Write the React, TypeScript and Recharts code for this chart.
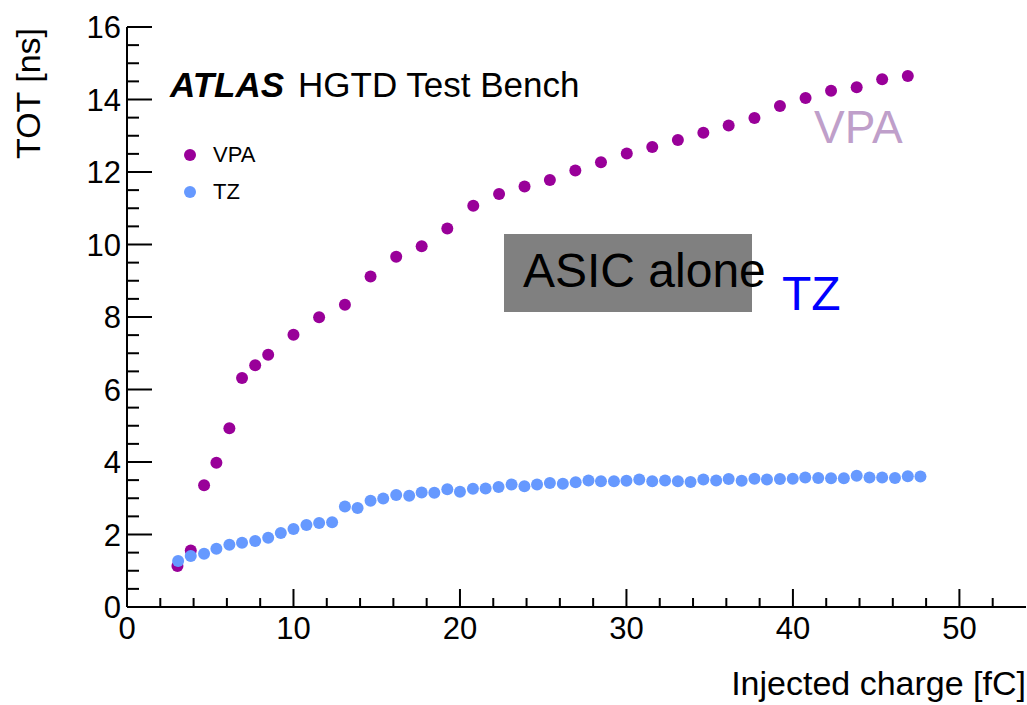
import { ScatterChart, Scatter, XAxis, YAxis } from 'recharts';

// values
const vpaCharge = [3.03, 3.83, 4.63, 5.37, 6.15, 6.91, 7.7, 8.48, 10.0, 11.54, 13.09, 14.63, 16.17, 17.7, 19.24, 20.8, 22.35, 23.88, 25.4, 26.93, 28.47, 30.02, 31.55, 33.09, 34.62, 36.14, 37.69, 39.22, 40.76, 42.29, 43.83, 45.36, 46.9];
const vpaTot = [1.13, 1.56, 3.36, 3.98, 4.93, 6.32, 6.67, 6.96, 7.51, 7.99, 8.34, 9.12, 9.66, 9.95, 10.44, 11.07, 11.39, 11.6, 11.78, 12.04, 12.27, 12.51, 12.69, 12.88, 13.08, 13.28, 13.49, 13.82, 14.04, 14.24, 14.34, 14.56, 14.65];

const tzCharge = [3.07, 3.83, 4.63, 5.37, 6.15, 6.91, 7.7, 8.48, 9.24, 10.0, 10.78, 11.54, 12.32, 13.09, 13.85, 14.63, 15.39, 16.17, 16.95, 17.7, 18.46, 19.24, 20.0, 20.78, 21.54, 22.32, 23.1, 23.87, 24.63, 25.4, 26.18, 26.95, 27.72, 28.47, 29.25, 30.0, 30.77, 31.55, 32.32, 33.09, 33.85, 34.62, 35.39, 36.14, 36.92, 37.69, 38.44, 39.22, 39.99, 40.74, 41.52, 42.29, 43.06, 43.83, 44.6, 45.36, 46.13, 46.9, 47.66];
const tzTot = [1.27, 1.41, 1.47, 1.61, 1.72, 1.77, 1.82, 1.91, 2.04, 2.15, 2.26, 2.32, 2.34, 2.77, 2.73, 2.93, 2.99, 3.09, 3.07, 3.16, 3.15, 3.25, 3.18, 3.26, 3.27, 3.31, 3.38, 3.33, 3.38, 3.42, 3.4, 3.44, 3.49, 3.47, 3.47, 3.48, 3.52, 3.47, 3.49, 3.47, 3.45, 3.52, 3.49, 3.53, 3.48, 3.54, 3.52, 3.53, 3.54, 3.57, 3.56, 3.55, 3.55, 3.62, 3.57, 3.57, 3.56, 3.61, 3.6];

// axis ticks (major ones get labels)
const xTicks = [0, 2, 4, 6, 8, 10, 12, 14, 16, 18, 20, 22, 24, 26, 28, 30, 32, 34, 36, 38, 40, 42, 44, 46, 48, 50, 52];
const xMajor = [0, 10, 20, 30, 40, 50];
const yTicks = [0, 0.5, 1, 1.5, 2, 2.5, 3, 3.5, 4, 4.5, 5, 5.5, 6, 6.5, 7, 7.5, 8, 8.5, 9, 9.5, 10, 10.5, 11, 11.5, 12, 12.5, 13, 13.5, 14, 14.5, 15, 15.5, 16];
const yMajor = [0, 2, 4, 6, 8, 10, 12, 14, 16];

const vpaData = vpaCharge.map((x, i) => ({ x, y: vpaTot[i] }));
const tzData = tzCharge.map((x, i) => ({ x, y: tzTot[i] }));

const FONT = '"Liberation Sans", Arial, Helvetica, sans-serif';
const VPA_COLOR = '#990099';
const TZ_COLOR = '#6699ff';

const dot = (color: string) => (props: any) => (
  <circle cx={props.cx} cy={props.cy} r={6} fill={color} />
);

// ROOT style ticks: drawn inward from the axis line
const bottomTick = (props: any) => {
  const { x, y, payload } = props;
  const major = xMajor.includes(payload.value);
  return (
    <g>
      <line x1={x} y1={y} x2={x} y2={y - (major ? 18 : 9)} stroke="#000" strokeWidth={2} />
      {major && (
        <text x={x} y={y + 32} textAnchor="middle" fontSize={31} fontFamily={FONT} fill="#000">
          {payload.value}
        </text>
      )}
    </g>
  );
};

const topTick = (props: any) => {
  const { x, y, payload } = props;
  const major = xMajor.includes(payload.value);
  return <line x1={x} y1={y} x2={x} y2={y + (major ? 18 : 9)} stroke="#000" strokeWidth={2} />;
};

const leftTick = (props: any) => {
  const { x, y, payload } = props;
  const major = yMajor.includes(payload.value);
  return (
    <g>
      <line x1={x} y1={y} x2={x + (major ? 25 : 12)} y2={y} stroke="#000" strokeWidth={2} />
      {major && (
        <text x={x - 6} y={y + 11} textAnchor="end" fontSize={31} fontFamily={FONT} fill="#000">
          {payload.value}
        </text>
      )}
    </g>
  );
};

const rightTick = (props: any) => {
  const { x, y, payload } = props;
  const major = yMajor.includes(payload.value);
  return <line x1={x} y1={y} x2={x - (major ? 25 : 12)} y2={y} stroke="#000" strokeWidth={2} />;
};

const axisLine = { stroke: '#000', strokeWidth: 2 };

export default function App() {
  return (
    <div style={{ position: 'absolute', left: 0, top: 0, width: 1027, height: 705, background: '#fff', fontFamily: FONT }}>
      <ScatterChart width={1027} height={705} margin={{ top: 27, right: 1, bottom: 58, left: 67 }}>
        <XAxis
          xAxisId="b"
          type="number"
          dataKey="x"
          domain={[0, 54]}
          allowDataOverflow
          ticks={xTicks}
          interval={0}
          height={40}
          tickSize={0}
          tickMargin={0}
          tickLine={false}
          axisLine={axisLine}
          tick={bottomTick}
        />
        <XAxis
          xAxisId="t"
          orientation="top"
          type="number"
          dataKey="x"
          domain={[0, 54]}
          allowDataOverflow
          ticks={xTicks}
          interval={0}
          height={0}
          tickSize={0}
          tickMargin={0}
          tickLine={false}
          axisLine={axisLine}
          tick={topTick}
        />
        <YAxis
          yAxisId="l"
          type="number"
          dataKey="y"
          domain={[0, 16]}
          allowDataOverflow
          ticks={yTicks}
          interval={0}
          width={60}
          tickSize={0}
          tickMargin={0}
          tickLine={false}
          axisLine={axisLine}
          tick={leftTick}
        />
        <YAxis
          yAxisId="r"
          orientation="right"
          type="number"
          dataKey="y"
          domain={[0, 16]}
          allowDataOverflow
          ticks={yTicks}
          interval={0}
          width={0}
          tickSize={0}
          tickMargin={0}
          tickLine={false}
          axisLine={axisLine}
          tick={rightTick}
        />
        <Scatter name="VPA" data={vpaData} xAxisId="b" yAxisId="l" fill={VPA_COLOR} shape={dot(VPA_COLOR)} isAnimationActive={false} />
        <Scatter name="TZ" data={tzData} xAxisId="b" yAxisId="l" fill={TZ_COLOR} shape={dot(TZ_COLOR)} isAnimationActive={false} />
      </ScatterChart>

      {/* axis titles */}
      <div
        style={{
          position: 'absolute', left: 11, top: 28, fontSize: 34, lineHeight: 1, whiteSpace: 'nowrap',
          transform: 'rotate(-90deg) translateX(-100%)', transformOrigin: '0 0', color: '#000',
        }}
      >
        TOT [ns]
      </div>
      <div style={{ position: 'absolute', right: 1, top: 666, fontSize: 34, lineHeight: 1, whiteSpace: 'nowrap' }}>
        Injected charge [fC]
      </div>

      {/* ATLAS label */}
      <div style={{ position: 'absolute', left: 170, top: 67, fontSize: 35, lineHeight: 1, whiteSpace: 'nowrap' }}>
        <span style={{ fontWeight: 'bold', fontStyle: 'italic' }}>ATLAS</span>
        <span style={{ marginLeft: 14 }}>HGTD Test Bench</span>
      </div>

      {/* legend */}
      {[
        { name: 'VPA', color: VPA_COLOR, top: 144 },
        { name: 'TZ', color: TZ_COLOR, top: 181 },
      ].map((e) => (
        <div key={e.name} style={{ position: 'absolute', left: 184, top: e.top, display: 'flex', alignItems: 'center', fontSize: 22, lineHeight: '22px' }}>
          <span style={{ width: 12, height: 12, borderRadius: '50%', background: e.color, display: 'inline-block' }} />
          <span style={{ marginLeft: 17 }}>{e.name}</span>
        </div>
      ))}

      {/* annotations */}
      <div style={{ position: 'absolute', left: 814, top: 104, fontSize: 46, lineHeight: 1, color: '#bf9fca' }}>VPA</div>
      <div style={{ position: 'absolute', left: 504, top: 234, width: 248, height: 78, background: '#808080' }} />
      <div style={{ position: 'absolute', left: 523, top: 247, fontSize: 48, lineHeight: 1, color: '#000', whiteSpace: 'nowrap' }}>
        ASIC alone
      </div>
      <div style={{ position: 'absolute', left: 782, top: 270, fontSize: 48, lineHeight: 1, color: '#0000ff' }}>TZ</div>
    </div>
  );
}
